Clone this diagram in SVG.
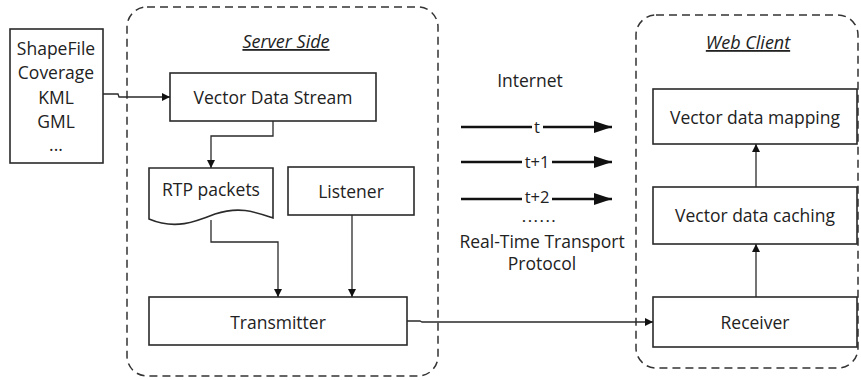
<svg xmlns="http://www.w3.org/2000/svg" width="861" height="380" viewBox="0 0 861 380">
  <style>
    .box { fill: #fff; stroke: #2a2a2a; stroke-width: 1.6; }
    .zone { fill: none; stroke: #333; stroke-width: 1.5; stroke-dasharray: 8 5; }
    .lbl { font-family: "Open Sans", "Liberation Sans", sans-serif; font-size: 17.5px; fill: #222; text-anchor: middle; dominant-baseline: central; }
    .ttl { font-family: "Open Sans", "Liberation Sans", sans-serif; font-size: 18px; font-style: italic; fill: #222; text-anchor: middle; text-decoration: underline; }
    .tag { font-family: "Open Sans", "Liberation Sans", sans-serif; font-size: 16.5px; fill: #222; text-anchor: middle; dominant-baseline: central; }
    .wire { fill: none; stroke: #2a2a2a; stroke-width: 1.3; }
    .flow { fill: none; stroke: #111; stroke-width: 2.4; }
  </style>
  <defs>
    <marker id="tip" viewBox="0 0 10 10" refX="10" refY="5" markerWidth="8" markerHeight="8" markerUnits="userSpaceOnUse" orient="auto">
      <path d="M0,0 L10,5 L0,10 Z" fill="#111"/>
    </marker>
    <marker id="big" viewBox="0 0 10 10" refX="10" refY="5" markerWidth="18" markerHeight="12" markerUnits="userSpaceOnUse" orient="auto" preserveAspectRatio="none">
      <path d="M0,0 L10,5 L0,10 Z" fill="#111"/>
    </marker>
  </defs>
  <rect width="861" height="380" fill="#fff"/>

  <!-- dashed regions -->
  <g id="server-side">
    <rect class="zone" x="127" y="7" width="311" height="369" rx="20"/>
    <text class="ttl" x="286" y="48">Server Side</text>
  </g>
  <g id="web-client">
    <rect class="zone" x="636" y="15" width="222" height="353" rx="20"/>
    <text class="ttl" x="748" y="49">Web Client</text>
  </g>

  <!-- source formats -->
  <g id="sources">
    <rect class="box" x="10" y="29" width="93" height="134"/>
    <text class="lbl" x="56" y="48">ShapeFile</text>
    <text class="lbl" x="56" y="72">Coverage</text>
    <text class="lbl" x="56" y="97">KML</text>
    <text class="lbl" x="56" y="121">GML</text>
    <text class="lbl" x="56" y="144">...</text>
  </g>

  <g id="vector-data-stream">
    <rect class="box" x="170" y="73" width="206" height="48"/>
    <text class="lbl" x="273" y="97">Vector Data Stream</text>
  </g>

  <g id="rtp-packets">
    <path class="box" d="M149,168 L273,168 L273,218 C255,212 240,206 215,214 C195,222 175,230 149,219 Z"/>
    <text class="lbl" x="211" y="189">RTP packets</text>
  </g>

  <g id="listener">
    <rect class="box" x="288" y="167" width="126" height="48"/>
    <text class="lbl" x="351" y="191">Listener</text>
  </g>

  <g id="transmitter">
    <rect class="box" x="149" y="297" width="258" height="48"/>
    <text class="lbl" x="278" y="322">Transmitter</text>
  </g>

  <g id="vector-data-mapping">
    <rect class="box" x="653" y="89" width="204" height="55"/>
    <text class="lbl" x="755" y="117">Vector data mapping</text>
  </g>

  <g id="vector-data-caching">
    <rect class="box" x="653" y="187" width="204" height="57"/>
    <text class="lbl" x="755" y="215">Vector data caching</text>
  </g>

  <g id="receiver">
    <rect class="box" x="653" y="297" width="204" height="50"/>
    <text class="lbl" x="755" y="322">Receiver</text>
  </g>

  <!-- internet / RTP transport -->
  <g id="internet">
    <text class="lbl" x="530" y="80">Internet</text>
    <text x="540" y="222" text-anchor="middle" style="font-family:'Open Sans','Liberation Sans',sans-serif;font-size:12px;letter-spacing:2.5px;fill:#222;font-weight:bold">......</text>
    <text class="lbl" x="542" y="241">Real-Time Transport</text>
    <text class="lbl" x="542" y="263">Protocol</text>
  </g>

  <g id="connectors">
    <path class="wire" d="M103,94 L118,94 L119,97 L170,97" marker-end="url(#tip)"/>
    <path class="wire" d="M273,121 L273,136 L211,136 L211,168" marker-end="url(#tip)"/>
    <path class="wire" d="M211,220 L211,242 L278,242 L278,297" marker-end="url(#tip)"/>
    <path class="wire" d="M352,215 L352,297" marker-end="url(#tip)"/>
    <path class="wire" d="M407,321 L420,321 L422,322 L653,322" marker-end="url(#tip)"/>
    <path class="wire" d="M756,297 L756,244" marker-end="url(#tip)"/>
    <path class="wire" d="M756,187 L756,144" marker-end="url(#tip)"/>

    <path class="flow" d="M461,127 L532,127 M543,127 L612,127" marker-end="url(#big)"/>
    <path class="flow" d="M461,162 L522,162 M552,162 L612,162" marker-end="url(#big)"/>
    <path class="flow" d="M461,199 L522,199 M552,199 L612,199" marker-end="url(#big)"/>
    <text class="tag" x="537" y="126">t</text>
    <text class="tag" x="537" y="161">t+1</text>
    <text class="tag" x="537" y="196">t+2</text>
  </g>
</svg>
